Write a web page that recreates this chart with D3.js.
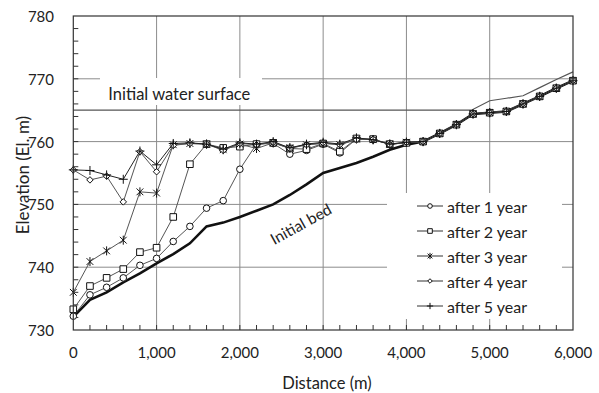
<!DOCTYPE html>
<html>
<head>
<meta charset="utf-8">
<script src="https://cdnjs.cloudflare.com/ajax/libs/d3/7.8.5/d3.min.js"></script>
<style>
  body { margin: 0; background: #fff; }
  svg text { font-family: Lato, "Open Sans", sans-serif; fill: #222; }
</style>
</head>
<body>
<svg id="chart" width="599" height="393"></svg>
<script>
// distances along the reach (m), one value every 200 m
var distance = d3.range(0, 6001, 200);

var initialBed = [732.1, 734.8, 736.0, 737.6, 739.0, 740.6, 742.1, 743.8, 746.5, 747.1, 748.0,
  749.0, 750.0, 751.5, 753.2, 755.0, 755.8, 756.6, 757.6, 758.7, 759.5,
  760.0, 761.3, 762.7, 764.4, 764.6, 764.8, 766.0, 767.2, 768.5, 769.7];

var after1 = [732.2, 735.6, 736.8, 738.3, 740.3, 741.4, 744.1, 746.5, 749.4, 750.6, 755.6,
  759.6, 759.7, 758.0, 758.6, 759.6, 758.2, 760.4, 760.3, 759.6, 759.8,
  760.0, 761.3, 762.7, 764.4, 764.6, 764.8, 766.0, 767.2, 768.5, 769.7];

var after2 = [733.3, 737.0, 738.3, 739.7, 742.4, 743.1, 748.0, 756.4, 759.6, 759.0, 759.2,
  759.6, 759.8, 758.9, 758.8, 759.7, 758.4, 760.5, 760.4, 759.6, 759.8,
  760.0, 761.3, 762.7, 764.4, 764.6, 764.8, 766.0, 767.2, 768.5, 769.7];

var after3 = [736.0, 740.9, 742.6, 744.3, 752.0, 751.8, 759.5, 759.7, 759.6, 758.7, 759.6,
  758.9, 759.8, 759.0, 759.5, 759.7, 759.5, 760.4, 760.3, 759.6, 759.9,
  760.0, 761.3, 762.7, 764.4, 764.6, 764.8, 766.0, 767.2, 768.5, 769.7];

var after4 = [755.5, 753.9, 754.5, 750.4, 758.4, 755.2, 759.4, 759.7, 759.6, 758.6, 759.7,
  759.5, 759.9, 758.9, 759.5, 759.8, 759.5, 760.3, 760.4, 759.5, 759.9,
  760.0, 761.3, 762.7, 764.4, 764.6, 764.8, 766.0, 767.2, 768.5, 769.7];

var after5 = [755.5, 755.4, 754.7, 754.0, 758.5, 756.3, 759.7, 759.8, 759.6, 758.8, 759.8,
  759.6, 760.0, 759.0, 759.6, 759.9, 759.6, 760.6, 760.3, 759.6, 759.9,
  760.0, 761.3, 762.7, 764.4, 764.6, 764.8, 766.0, 767.2, 768.5, 769.7];

var waterDist = [0, 4780, 5000, 5200, 5400, 5600, 5800, 6000];
var waterElev = [765, 765, 766.5, 766.9, 767.3, 768.6, 769.9, 771.1];

var seriesNames = ["after 1 year", "after 2 year", "after 3 year", "after 4 year", "after 5 year"];
var seriesValues = [after1, after2, after3, after4, after5];
var seriesMarkers = ["circle", "square", "asterisk", "diamond", "plus"];

var xTicks = [0, 1000, 2000, 3000, 4000, 5000, 6000];
var yTicks = [730, 740, 750, 760, 770, 780];

var svg = d3.select("#chart");
var x = d3.scaleLinear().domain([0, 6000]).range([73.3, 573]);
var y = d3.scaleLinear().domain([730, 780]).range([330, 16]);

svg.append("rect").attr("width", 599).attr("height", 393).attr("fill", "#fff");

// grid
var grid = svg.append("g").attr("stroke", "#8c8c8c").attr("stroke-width", 1);
grid.selectAll(".gy").data(yTicks.slice(1, -1)).enter().append("line")
  .attr("x1", x(0)).attr("x2", x(6000))
  .attr("y1", function (d) { return y(d); }).attr("y2", function (d) { return y(d); });
grid.selectAll(".gx").data(xTicks.slice(1, -1)).enter().append("line")
  .attr("y1", y(730)).attr("y2", y(780))
  .attr("x1", function (d) { return x(d); }).attr("x2", function (d) { return x(d); });

// minor ticks, inside
var minor = svg.append("g").attr("stroke", "#333").attr("stroke-width", 1);
minor.selectAll(".ty").data(d3.range(732, 780, 2)).enter().append("line")
  .attr("x1", x(0)).attr("x2", x(0) + 5)
  .attr("y1", function (d) { return y(d); }).attr("y2", function (d) { return y(d); });
minor.selectAll(".tx").data(d3.range(200, 6000, 200)).enter().append("line")
  .attr("y1", y(730)).attr("y2", y(730) - 5)
  .attr("x1", function (d) { return x(d); }).attr("x2", function (d) { return x(d); });

// label box for water surface (hides grid)
svg.append("rect").attr("x", 100).attr("y", 78).attr("width", 162).attr("height", 27).attr("fill", "#fff");
svg.append("text").attr("x", x(1273)).attr("y", y(766.6))
  .attr("text-anchor", "middle").attr("font-size", 16.5)
  .text("Initial water surface");

// water surface
var line = d3.line().x(function (d) { return x(d[0]); }).y(function (d) { return y(d[1]); });
svg.append("path")
  .attr("d", line(d3.zip(waterDist, waterElev)))
  .attr("fill", "none").attr("stroke", "#555").attr("stroke-width", 1.2);

// initial bed
svg.append("path")
  .attr("d", line(d3.zip(distance, initialBed)))
  .attr("fill", "none").attr("stroke", "#111").attr("stroke-width", 2.6);

function markerPath(type, s) {
  var h = s / 2;
  if (type === "circle") return d3.symbol(d3.symbolCircle, Math.PI * h * h)();
  if (type === "square") return "M" + (-h) + "," + (-h) + "h" + s + "v" + s + "h" + (-s) + "Z";
  if (type === "diamond") return "M0," + (-h) + "L" + h + ",0L0," + h + "L" + (-h) + ",0Z";
  if (type === "plus") return "M" + (-h) + ",0H" + h + "M0," + (-h) + "V" + h;
  // asterisk
  var k = h * 0.75;
  return "M" + (-k) + "," + (-k) + "L" + k + "," + k + "M" + (-k) + "," + k + "L" + k + "," + (-k) +
    "M0," + (-h) + "V" + h;
}
var markerSize = {circle: 6.6, square: 6.6, asterisk: 9, diamond: 6.5, plus: 9};

seriesValues.forEach(function (vals, i) {
  var g = svg.append("g");
  var pts = d3.zip(distance, vals);
  g.append("path").attr("d", line(pts))
    .attr("fill", "none").attr("stroke", i === 4 ? "#222" : "#555").attr("stroke-width", 1);
  g.selectAll(".m").data(pts).enter().append("path")
    .attr("transform", function (d) { return "translate(" + x(d[0]) + "," + y(d[1]) + ")"; })
    .attr("d", markerPath(seriesMarkers[i], markerSize[seriesMarkers[i]]))
    .attr("fill", "#fff").attr("stroke", "#111").attr("stroke-width", 1);
});

// initial bed label
svg.append("text")
  .attr("transform", "translate(" + x(2730) + "," + y(746.9) + ") rotate(-29)")
  .attr("text-anchor", "middle").attr("dominant-baseline", "central")
  .attr("font-size", 15.5).text("Initial bed");

// frame
svg.append("rect").attr("x", x(0)).attr("y", y(780))
  .attr("width", x(6000) - x(0)).attr("height", y(730) - y(780))
  .attr("fill", "none").attr("stroke", "#333").attr("stroke-width", 1.2);

// tick labels
svg.selectAll(".xl").data(xTicks).enter().append("text")
  .attr("x", function (d) { return x(d); }).attr("y", 352)
  .attr("text-anchor", "middle").attr("dominant-baseline", "central")
  .attr("font-size", 15).text(d3.format(","));
svg.selectAll(".yl").data(yTicks).enter().append("text")
  .attr("x", 54).attr("y", function (d) { return y(d); })
  .attr("text-anchor", "end").attr("dominant-baseline", "central")
  .attr("font-size", 15).text(function (d) { return d; });

svg.append("text").attr("x", 327).attr("y", 383)
  .attr("text-anchor", "middle").attr("dominant-baseline", "central")
  .attr("font-size", 16.5).text("Distance (m)");
svg.append("text").attr("transform", "translate(22,175) rotate(-90)")
  .attr("text-anchor", "middle").attr("dominant-baseline", "central")
  .attr("font-size", 17).text("Elevation (El. m)");

// legend
var lg = svg.append("g");
lg.append("rect").attr("x", 387).attr("y", 193).attr("width", 175).attr("height", 126).attr("fill", "#fff");
seriesNames.forEach(function (name, i) {
  var cy = 206 + i * 25;
  lg.append("line").attr("x1", 417).attr("x2", 443).attr("y1", cy).attr("y2", cy)
    .attr("stroke", "#333").attr("stroke-width", 1);
  lg.append("path").attr("transform", "translate(430," + cy + ")")
    .attr("d", markerPath(seriesMarkers[i], markerSize[seriesMarkers[i]] * 0.7))
    .attr("fill", "#fff").attr("stroke", "#111").attr("stroke-width", 1);
  lg.append("text").attr("x", 447).attr("y", cy)
    .attr("dominant-baseline", "central").attr("font-size", 16).text(name);
});
</script>
</body>
</html>
